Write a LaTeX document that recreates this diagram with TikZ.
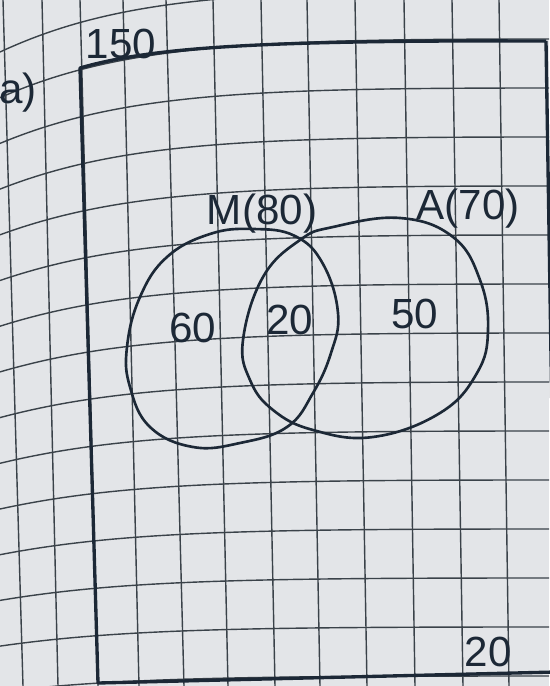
\documentclass[tikz,border=0pt]{standalone}
\usepackage{fontspec}
\setmainfont{Liberation Sans}
\usepackage{tikz}
\usetikzlibrary{positioning}
\definecolor{paper}{HTML}{E3E5E8}
\definecolor{gridline}{HTML}{3A4249}
\definecolor{ink}{HTML}{1C2836}
\tikzset{
    gridrule/.style={draw=gridline, line width=0.8pt},
    frame/.style={draw=ink, line width=1.9pt, line join=round},
    hand/.style={draw=ink, line width=1.5pt, line join=round},
    num/.style={text=ink, font=\fontsize{24}{24}\selectfont, inner sep=0pt},
}

\begin{document}
\begin{tikzpicture}[x=0.02cm, y=-0.02cm]
    \useasboundingbox (0,0) rectangle (549,686);
    \fill[paper] (0,0) rectangle (549,686);

    % 网格
    \foreach \k in {0,...,14} {
        \pgfmathsetmacro{\R}{-10+49*\k}
        \pgfmathsetmacro{\L}{62-3.3*\k}
        \draw[gridrule] (0,{\R+\L}) .. controls (120,{\R+0.1*\L}) and (250,\R) .. (549,\R);
    }
    \foreach \t/\b in {3/23, 42/58, 80/98, 123/139, 166/184, 213/228, 261/275, 307/320, 355/367, 404/415, 452/463, 499/509} {
        \draw[gridrule] (\t,0) -- (\b,686);
    }

    % 全集
    \coordinate (tl) at (80,68);
    \coordinate (tr) at (546,41);
    \coordinate (br) at (556,672);
    \coordinate (bl) at (98,683);
    \draw[frame] (tr) -- (br) -- (bl) -- (tl) .. controls (150,48) and (250,40) .. (tr);

    % 集合 M, A
    \draw[hand] plot[smooth cycle, tension=0.7] coordinates {
        (167,257) (210,234) (253,229) (295,236) (323,264) (338,313) (331,353)
        (313,393) (287,427) (240,443) (193,447) (150,427) (130,387) (127,347) (140,297)};
    \draw[hand] plot[smooth cycle, tension=0.7] coordinates {
        (243,340) (263,277) (300,240) (333,227) (400,218) (453,237) (480,280)
        (488,330) (477,373) (440,413) (373,437) (313,430) (273,410) (250,380)};

    % 标签
    \node[num] (part) at (18,93) {a)};
    \node[num] (total) at (121,44) {150};
    \node[num] (nameM) at (262,214) {M(80)};
    \node[num] (nameA) at (468,209) {A(70)};
    \node[num] (onlyM) at (193,328) {60};
    \node[num] (both) at (290,320) {20};
    \node[num] (onlyA) at (415,314) {50};
    \node[num] (none) at (488,652) {20};
\end{tikzpicture}
\end{document}
